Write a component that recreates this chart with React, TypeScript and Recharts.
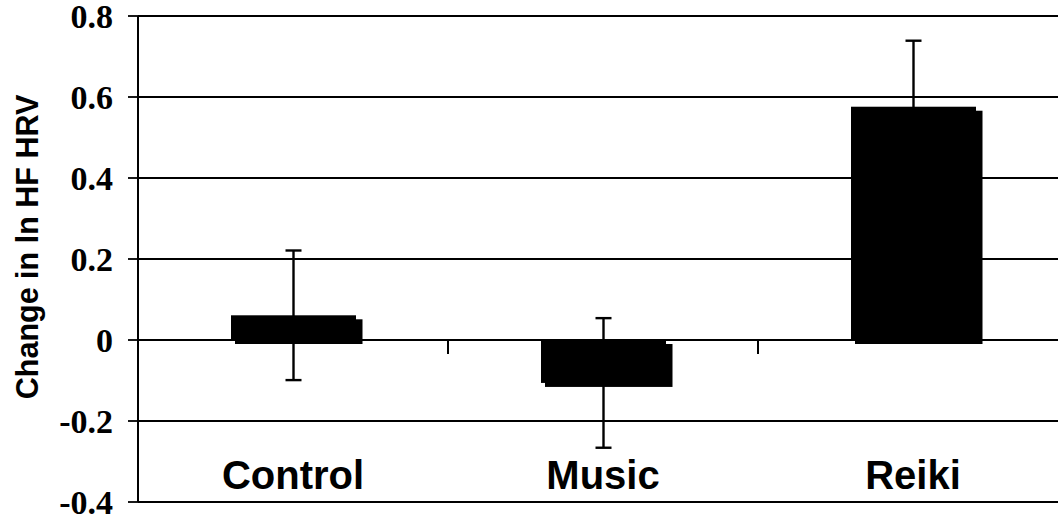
import React from 'react';
import { BarChart, Bar, XAxis, YAxis, CartesianGrid, ErrorBar, ReferenceLine } from 'recharts';

const categories = ['Control', 'Music', 'Reiki'];
const changeValues = [0.061, -0.106, 0.576];
const errorValues = [0.16, 0.16, 0.163];
const yTicks = [-0.4, -0.2, 0, 0.2, 0.4, 0.6, 0.8];

const data = categories.map((c, i) => ({ name: c, value: changeValues[i], err: errorValues[i] }));

const ShadowBar = (props: any) => {
  const { x, y, width, height } = props;
  const top = Math.min(y, y + height);
  const h = Math.abs(height);
  return (
    <g>
      <rect x={x + 4} y={top + 4} width={width + 2.5} height={h} fill="#000" />
      <rect x={x} y={top} width={width} height={h} fill="#000" />
    </g>
  );
};

const ZeroAxis = (props: any) => {
  const { x1, y1, x2 } = props;
  const n = categories.length;
  const step = (x2 - x1) / n;
  const marks = [];
  for (let k = 1; k < n; k++) {
    const bx = x1 + step * k;
    marks.push(<line key={k} x1={bx} y1={y1} x2={bx} y2={y1 + 14} stroke="#000" strokeWidth={2} />);
  }
  return (
    <g>
      <line x1={x1} y1={y1} x2={x2} y2={y1} stroke="#000" strokeWidth={1.8} />
      {marks}
    </g>
  );
};

const CatTick = (props: any) => {
  const { x, y, payload } = props;
  return (
    <text x={x} y={y - 13} textAnchor="middle" fontFamily="Arial, 'Liberation Sans', sans-serif" fontWeight="bold" fontSize={40} fill="#000">
      {payload.value}
    </text>
  );
};

const YTitle = (props: any) => {
  const vb = props.viewBox || { x: 0, y: 16, width: 138, height: 486 };
  const cx = vb.x + 38;
  const cy = vb.y + vb.height / 2 - 12;
  return (
    <text x={cx} y={cy} transform={`rotate(-90 ${cx} ${cy})`} textAnchor="middle" fontFamily="Arial, 'Liberation Sans', sans-serif" fontWeight="bold" fontSize={30.5} fill="#000">
      Change in ln HF HRV
    </text>
  );
};

export default function App() {
  return (
    <div style={{ position: 'fixed', left: 0, top: 0, width: 1058, height: 523, overflow: 'hidden', background: '#fff' }}>
      <BarChart width={1070} height={523} data={data} margin={{ top: 16, right: 2, bottom: 0, left: 0 }}>
        <CartesianGrid vertical={false} stroke="#000" strokeWidth={1.8} />
        <XAxis dataKey="name" height={21} axisLine={false} tickLine={false} tickSize={0} tickMargin={0} tick={<CatTick />} interval={0} />
        <YAxis
          domain={[-0.4, 0.8]}
          ticks={yTicks}
          width={138}
          interval={0}
          axisLine={{ stroke: '#000', strokeWidth: 2 }}
          tickLine={{ stroke: '#000', strokeWidth: 1.8 }}
          tickSize={10}
          tickMargin={15}
          tickFormatter={(v: number) => (v === 0 ? '0' : v.toFixed(1))}
          tick={{ fill: '#000', fontSize: 34, fontWeight: 'bold', fontFamily: "'Times New Roman', 'Liberation Serif', serif" }}
          label={<YTitle />}
        />
        <ReferenceLine y={0} stroke="#000" shape={<ZeroAxis />} />
        <Bar dataKey="value" barSize={125} shape={<ShadowBar />} isAnimationActive={false}>
          <ErrorBar dataKey="err" direction="y" width={8} stroke="#000" strokeWidth={2.4} />
        </Bar>
      </BarChart>
    </div>
  );
}
